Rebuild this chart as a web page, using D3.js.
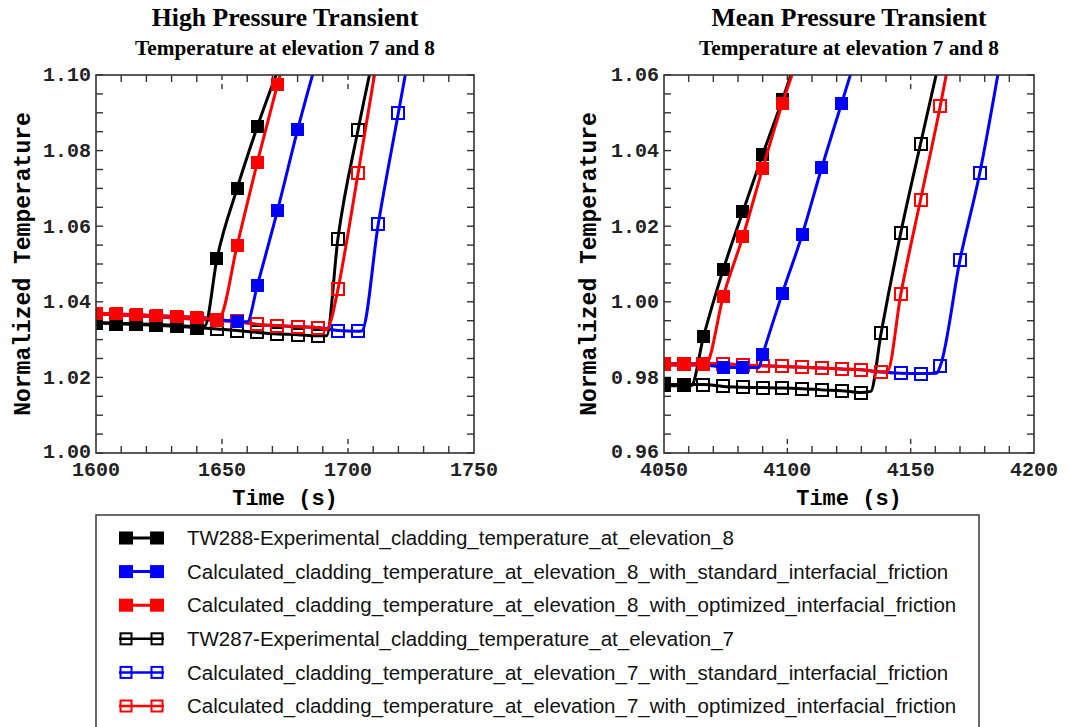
<!DOCTYPE html>
<html>
<head>
<meta charset="utf-8">
<script src="https://cdn.jsdelivr.net/npm/d3@7/dist/d3.min.js"></script>
<style>
  body { margin: 0; background: #fff; }
</style>
</head>
<body>
<div id="chart"></div>
<script>
// marker times (s)
var hpMarkTimes = [1600,1608,1616,1624,1632,1640,1648,1656,1664,1672,1680,1688,1696,1704,1712,1720];
var mpMarkTimes = [4050,4058,4066,4074,4082,4090,4098,4106,4114,4122,4130,4138,4146,4154,4162,4170,4178];

// High pressure transient: [time, normalized temperature]
var hpTW288 = [[1600,1.0345],[1608,1.0343],[1616,1.0342],[1624,1.0340],[1632,1.0338],[1640,1.0334],
  [1643.2,1.0336],[1648,1.0514],[1656,1.0700],[1664,1.0863],[1672,1.1010]];
var hpStd8 = [[1600,1.0370],[1608,1.0368],[1616,1.0366],[1624,1.0363],[1632,1.0361],[1640,1.0359],
  [1648,1.0354],[1656,1.0348],[1660,1.0347],[1664,1.0443],[1672,1.0641],[1680,1.0855],[1688,1.1050]];
var hpOpt8 = [[1600,1.0370],[1608,1.0368],[1616,1.0366],[1624,1.0363],[1632,1.0361],[1640,1.0359],
  [1648,1.0354],[1649,1.0356],[1656,1.0549],[1664,1.0769],[1672,1.0974],[1675,1.1050]];
var hpTW287 = [[1600,1.0344],[1608,1.0342],[1616,1.0340],[1624,1.0338],[1632,1.0335],[1640,1.0332],
  [1648,1.0328],[1656,1.0324],[1664,1.0319],[1672,1.0315],[1680,1.0313],[1688,1.0310],
  [1691.5,1.0310],[1696,1.0567],[1704,1.0855],[1710,1.1047]];
var hpStd7 = [[1600,1.0368],[1608,1.0366],[1616,1.0363],[1624,1.0360],[1632,1.0357],[1640,1.0354],
  [1648,1.0351],[1656,1.0348],[1664,1.0340],[1672,1.0337],[1680,1.0334],[1688,1.0332],
  [1696,1.0324],[1704,1.0322],[1705.5,1.0323],[1712,1.0605],[1720,1.0900],[1723,1.1010]];
var hpOpt7 = [[1600,1.0368],[1608,1.0366],[1616,1.0363],[1624,1.0360],[1632,1.0357],[1640,1.0354],
  [1648,1.0351],[1656,1.0348],[1664,1.0340],[1672,1.0337],[1680,1.0334],[1688,1.0332],
  [1691.5,1.0326],[1693.5,1.0357],[1696,1.0433],[1704,1.0740],[1711,1.1020]];

// Mean pressure transient
var mpTW288 = [[4050,0.9778],[4058,0.9778],[4061,0.9778],[4066,0.9907],[4074,1.0085],[4082,1.0239],
  [4090,1.0390],[4098,1.0534],[4104,1.0650]];
var mpStd8 = [[4050,0.9833],[4058,0.9833],[4066,0.9833],[4074,0.9827],[4082,0.9826],[4088.4,0.9826],
  [4090,0.9860],[4098,1.0023],[4106,1.0177],[4114,1.0356],[4122,1.0525],[4128,1.0652]];
var mpOpt8 = [[4050,0.9833],[4058,0.9833],[4066,0.9833],[4067,0.9834],[4074,1.0014],[4082,1.0173],
  [4090,1.0353],[4098,1.0525],[4104,1.0640]];
var mpTW287 = [[4050,0.9782],[4058,0.9781],[4066,0.9781],[4074,0.9776],[4082,0.9774],[4090,0.9773],
  [4098,0.9772],[4106,0.9770],[4114,0.9767],[4122,0.9765],[4130,0.9760],[4133.8,0.9763],
  [4138,0.9917],[4146,1.0183],[4154,1.0418],[4161,1.0620]];
var mpStd7 = [[4050,0.9836],[4058,0.9836],[4066,0.9836],[4074,0.9836],[4082,0.9833],[4090,0.9831],
  [4098,0.9829],[4106,0.9827],[4114,0.9825],[4122,0.9822],[4130,0.9820],[4138,0.9814],
  [4146,0.9811],[4154,0.9810],[4160.5,0.9811],[4162,0.9830],[4170,1.0111],[4178,1.0340],[4186,1.0625]];
var mpOpt7 = [[4050,0.9836],[4058,0.9836],[4066,0.9836],[4074,0.9836],[4082,0.9833],[4090,0.9831],
  [4098,0.9829],[4106,0.9827],[4114,0.9825],[4122,0.9822],[4130,0.9820],[4138,0.9815],
  [4140.5,0.9815],[4146,1.0020],[4154,1.0270],[4162,1.0518],[4165,1.0620]];

var legendLabels = [
  "TW288-Experimental_cladding_temperature_at_elevation_8",
  "Calculated_cladding_temperature_at_elevation_8_with_standard_interfacial_friction",
  "Calculated_cladding_temperature_at_elevation_8_with_optimized_interfacial_friction",
  "TW287-Experimental_cladding_temperature_at_elevation_7",
  "Calculated_cladding_temperature_at_elevation_7_with_standard_interfacial_friction",
  "Calculated_cladding_temperature_at_elevation_7_with_optimized_interfacial_friction"
];

// styles, same order as the legend
var seriesColor = ["#000000", "#0000ff", "#ff0000", "#000000", "#0000ff", "#ff0000"];
var seriesFilled = [true, true, true, false, false, false];
var drawOrder = [4, 3, 5, 1, 0, 2];

var W = 1071, H = 727;
var plotTop = 75, plotBottom = 453;

var panels = [
  { title: "High Pressure Transient", x0: 96, x1: 474, xDom: [1600, 1750], yDom: [1.00, 1.10],
    marks: hpMarkTimes, series: [hpTW288, hpStd8, hpOpt8, hpTW287, hpStd7, hpOpt7], ylab: 22 },
  { title: "Mean Pressure Transient", x0: 664, x1: 1034, xDom: [4050, 4200], yDom: [0.96, 1.06],
    marks: mpMarkTimes, series: [mpTW288, mpStd8, mpOpt8, mpTW287, mpStd7, mpOpt7], ylab: 588 }
];

var svg = d3.select("#chart").append("svg")
  .attr("width", W).attr("height", H);

var mono = "'Liberation Mono', monospace";
var serif = "'Liberation Serif', 'Times New Roman', serif";

panels.forEach(function(p, pi) {
  var x = d3.scaleLinear().domain(p.xDom).range([p.x0, p.x1]);
  var y = d3.scaleLinear().domain(p.yDom).range([plotBottom, plotTop]);
  var g = svg.append("g");
  var cx = (p.x0 + p.x1) / 2;

  // titles
  g.append("text").attr("x", cx).attr("y", 26).attr("text-anchor", "middle")
    .style("font-family", serif).style("font-weight", "bold").style("font-size", "25.7px")
    .text(p.title);
  g.append("text").attr("x", cx).attr("y", 55).attr("text-anchor", "middle")
    .style("font-family", serif).style("font-weight", "bold").style("font-size", "21.3px")
    .text("Temperature at elevation 7 and 8");

  // clip
  g.append("clipPath").attr("id", "clip" + pi).append("rect")
    .attr("x", p.x0).attr("y", plotTop).attr("width", p.x1 - p.x0).attr("height", plotBottom - plotTop);

  // ticks, inside the frame
  var minorX = x.ticks(15), majorX = x.ticks(3);
  var inner = majorX.slice(1, -1);
  minorX.forEach(function(t) {
    if (t === p.xDom[0] || t === p.xDom[1]) return;
    var dashed = inner.indexOf(t) >= 0;
    var len = dashed ? 16 : 7;
    [plotBottom, plotTop].forEach(function(yy, k) {
      g.append("line").attr("x1", x(t)).attr("x2", x(t))
        .attr("y1", yy).attr("y2", k === 0 ? yy - len : yy + len)
        .attr("stroke", "#333").attr("stroke-width", 1.4)
        .attr("stroke-dasharray", dashed ? "5,4" : null);
    });
  });
  y.ticks(20).forEach(function(t) {
    [p.x0, p.x1].forEach(function(xx, k) {
      g.append("line").attr("y1", y(t)).attr("y2", y(t))
        .attr("x1", xx).attr("x2", k === 0 ? xx + 7 : xx - 7)
        .attr("stroke", "#333").attr("stroke-width", 1.4);
    });
  });

  // tick labels
  majorX.forEach(function(t) {
    g.append("text").attr("x", x(t)).attr("y", 476).attr("text-anchor", "middle")
      .style("font-family", mono).style("font-weight", "bold").style("font-size", "20px")
      .attr("fill", "#222").text(t);
  });
  y.ticks(5).forEach(function(t, i) {
    g.append("text").attr("x", p.x0 - 5).attr("y", y(t) - (i === 0 ? 1 : 0)).attr("dy", "0.32em")
      .attr("text-anchor", "end")
      .style("font-family", mono).style("font-weight", "bold").style("font-size", "20px")
      .attr("fill", "#222").text(d3.format(".2f")(t));
  });

  // axis titles
  g.append("text").attr("x", cx).attr("y", 505).attr("text-anchor", "middle")
    .style("font-family", mono).style("font-weight", "bold").style("font-size", "22px")
    .text("Time (s)");
  g.append("text").attr("transform", "translate(" + (p.ylab + 8) + "," + ((plotTop + plotBottom) / 2) + ") rotate(-90)")
    .attr("text-anchor", "middle")
    .style("font-family", mono).style("font-weight", "bold").style("font-size", "23px")
    .text("Normalized Temperature");

  // series
  var line = d3.line().x(function(d) { return x(d[0]); }).y(function(d) { return y(d[1]); })
    .curve(d3.curveMonotoneX);
  var plot = g.append("g").attr("clip-path", "url(#clip" + pi + ")");
  drawOrder.forEach(function(si) {
    var data = p.series[si];
    var c = seriesColor[si];
    plot.append("path").datum(data).attr("d", line)
      .attr("fill", "none").attr("stroke", c).attr("stroke-width", 3);
    var pts = data.filter(function(d) {
      return p.marks.indexOf(d[0]) >= 0 && d[1] <= p.yDom[1] && d[1] >= p.yDom[0];
    });
    var s = seriesFilled[si] ? 13 : 12;
    plot.selectAll(null).data(pts).enter().append("rect")
      .attr("x", function(d) { return Math.round(x(d[0]) - s / 2); })
      .attr("y", function(d) { return Math.round(y(d[1]) - s / 2); })
      .attr("width", s).attr("height", s)
      .attr("fill", seriesFilled[si] ? c : "none")
      .attr("stroke", seriesFilled[si] ? "none" : c)
      .attr("stroke-width", 2)
      .attr("shape-rendering", "crispEdges");
  });

  // frame
  g.append("rect").attr("x", p.x0).attr("y", plotTop).attr("width", p.x1 - p.x0).attr("height", plotBottom - plotTop)
    .attr("fill", "none").attr("stroke", "#333").attr("stroke-width", 1.6);
});

// legend
var lg = svg.append("g");
lg.append("rect").attr("x", 96).attr("y", 515).attr("width", 883).attr("height", 240)
  .attr("fill", "#fff").attr("stroke", "#444").attr("stroke-width", 1.6);
var rowY = d3.scaleLinear().domain([0, 5]).range([538, 706]);
legendLabels.forEach(function(label, i) {
  var yy = rowY(i);
  var c = seriesColor[i];
  lg.append("line").attr("x1", 119).attr("x2", 164).attr("y1", yy).attr("y2", yy)
    .attr("stroke", c).attr("stroke-width", seriesFilled[i] ? 3 : 2.5);
  [126, 157].forEach(function(mx) {
    if (seriesFilled[i]) {
      lg.append("rect").attr("x", mx - 7).attr("y", yy - 6.5).attr("width", 14).attr("height", 13).attr("fill", c);
    } else {
      lg.append("rect").attr("x", mx - 5.5).attr("y", yy - 5.5).attr("width", 11).attr("height", 11)
        .attr("fill", "none").attr("stroke", c).attr("stroke-width", 2);
    }
  });
  lg.append("text").attr("x", 187).attr("y", yy).attr("dy", "0.35em")
    .style("font-family", "'Liberation Sans', Arial, sans-serif").style("font-size", "20.5px")
    .attr("fill", "#111").text(label);
});
</script>
</body>
</html>
